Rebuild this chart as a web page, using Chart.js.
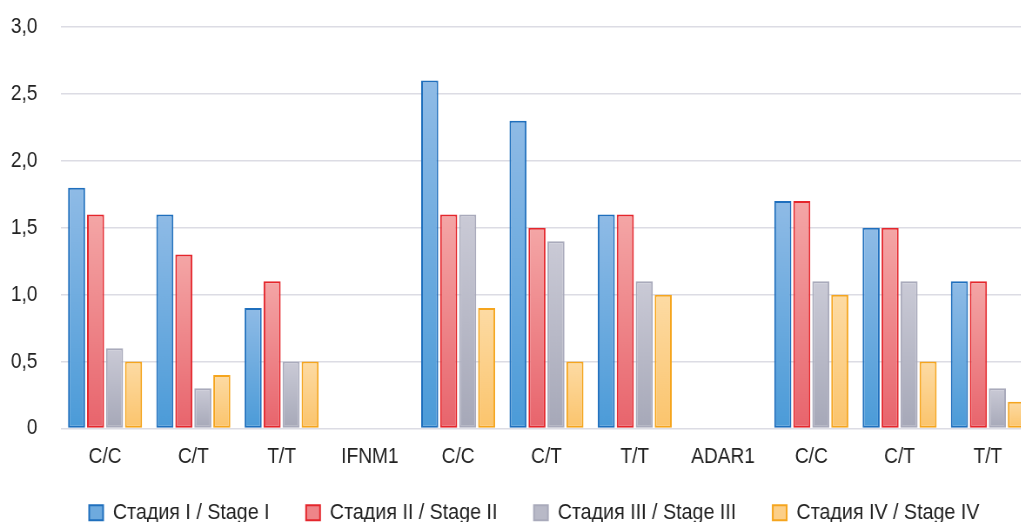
<!DOCTYPE html>
<html>
<head>
<meta charset="utf-8">
<script src="https://cdn.jsdelivr.net/npm/chart.js@4/dist/chart.umd.min.js"></script>
<style>
  html, body { margin: 0; padding: 0; background: #fff; overflow: hidden; width: 1021px; height: 522px; }
  #wrap { position: absolute; left: 0; top: 0; }
</style>
</head>
<body>
<!-- the drawing surface is rendered wide and shown condensed, giving narrow lettering -->
<div id="wrap"><canvas id="c" width="1186" height="548" style="width:1032px;height:548px;display:block"></canvas></div>
<script>
// Genotype groups with gene separators
const categories = ['C/C', 'C/T', 'T/T', 'IFNM1', 'C/C', 'C/T', 'T/T', 'ADAR1', 'C/C', 'C/T', 'T/T'];

// Values per disease stage
const stageI   = [1.8, 1.6, 0.9, null, 2.6, 2.3, 1.6, null, 1.7, 1.5, 1.1];
const stageII  = [1.6, 1.3, 1.1, null, 1.6, 1.5, 1.6, null, 1.7, 1.5, 1.1];
const stageIII = [0.6, 0.3, 0.5, null, 1.6, 1.4, 1.1, null, 1.1, 1.1, 0.3];
const stageIV  = [0.5, 0.4, 0.5, null, 0.9, 0.5, 1.0, null, 1.0, 0.5, 0.2];

const seriesNames = ['Стадия I / Stage I', 'Стадия II / Stage II', 'Стадия III / Stage III', 'Стадия IV / Stage IV'];
const yTicks = [0, 0.5, 1.0, 1.5, 2.0, 2.5, 3.0];

const palette = [
  { top: '#8fbbe6', bottom: '#4b9bd8', mid: '#6eaade', border: '#1f6fbd' },
  { top: '#f4a6a6', bottom: '#e8646c', mid: '#ee8589', border: '#e4262c' },
  { top: '#cacad6', bottom: '#a6a8b8', mid: '#b8b9c7', border: '#a9aabb' },
  { top: '#fddba4', bottom: '#fbc46c', mid: '#fccf88', border: '#f5a51e' }
];

const FONT = "'Liberation Sans', Arial, sans-serif";

function barGradient(ctx, p) {
  const chart = ctx.chart;
  const area = chart.chartArea;
  if (!area || ctx.type !== 'data' || ctx.raw == null) return p.mid;
  const y = chart.scales.y;
  const top = y.getPixelForValue(ctx.raw);
  const base = y.getPixelForValue(0);
  if (!(base > top)) return p.mid;
  const g = chart.ctx.createLinearGradient(0, top, 0, base);
  g.addColorStop(0, p.top);
  g.addColorStop(1, p.bottom);
  return g;
}

const seriesData = [stageI, stageII, stageIII, stageIV];

const datasets = seriesData.map((d, i) => ({
  label: seriesNames[i],
  data: d,
  backgroundColor: (ctx) => barGradient(ctx, palette[i]),
  borderColor: palette[i].border,
  borderWidth: 2,
  borderSkipped: false,
  categoryPercentage: 0.86,
  barPercentage: 0.9
}));

// places the legend row slightly right of centre and closer to the axis labels
const legendShift = {
  id: 'legendShift',
  afterLayout(chart) {
    const lg = chart.legend;
    if (lg) {
      lg.left += 21; lg.right += 21;
      lg.top -= 14; lg.bottom -= 14;
    }
  }
};

new Chart(document.getElementById('c'), {
  type: 'bar',
  data: { labels: categories, datasets },
  plugins: [legendShift],
  options: {
    responsive: false,
    devicePixelRatio: 1,
    animation: false,
    layout: { autoPadding: false, padding: { left: 0, top: 0, right: 0, bottom: 0 } },
    plugins: {
      tooltip: { enabled: false },
      legend: {
        position: 'bottom',
        labels: {
          font: { family: FONT, size: 22.6 },
          color: '#222',
          boxWidth: 16,
          boxHeight: 15,
          padding: 42,
          generateLabels: (chart) => chart.data.datasets.map((ds, i) => ({
            text: ds.label,
            fillStyle: palette[i].mid,
            strokeStyle: palette[i].border,
            lineWidth: 2,
            fontColor: '#222',
            hidden: false,
            datasetIndex: i
          }))
        }
      }
    },
    scales: {
      x: {
        afterFit: (scale) => { scale.height = 45; },
        grid: { display: false, drawTicks: false },
        border: { display: false },
        ticks: { font: { family: FONT, size: 22 }, color: '#222', padding: 15, maxRotation: 0, autoSkip: false }
      },
      y: {
        min: 0,
        max: 3,
        afterBuildTicks: (scale) => { scale.ticks = yTicks.map(v => ({ value: v })); },
        afterFit: (scale) => { scale.width = 70; },
        grid: { color: '#dcdce4', lineWidth: 1.5, drawTicks: false },
        border: { display: false },
        ticks: {
          font: { family: FONT, size: 22, lineHeight: 0.01 },
          color: '#222',
          padding: 27,
          callback: (v) => v === 0 ? '0' : Number(v).toFixed(1).replace('.', ',')
        }
      }
    }
  }
});
</script>
</body>
</html>
